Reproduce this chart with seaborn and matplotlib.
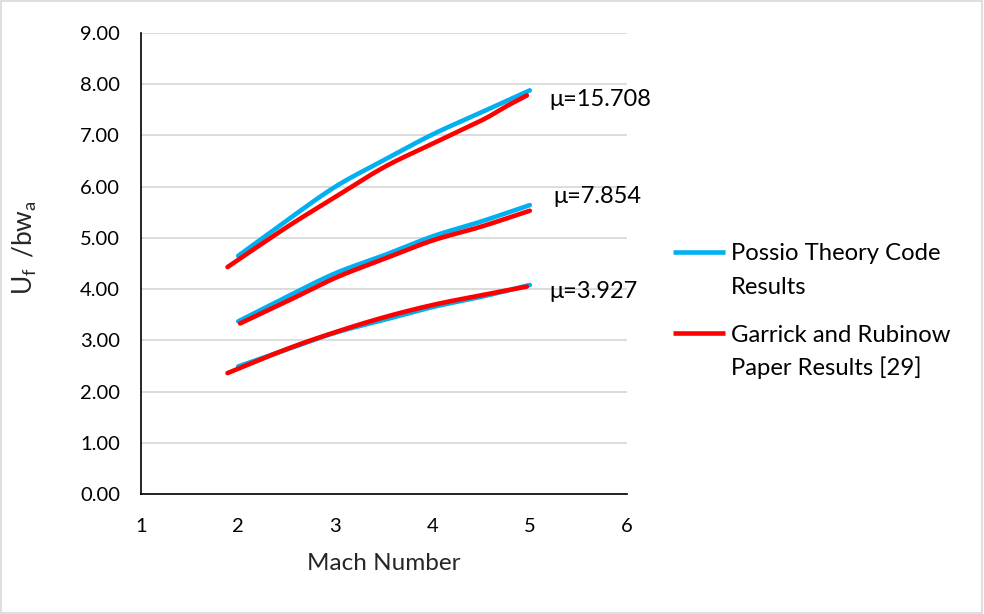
import numpy as np
import pandas as pd
import matplotlib
matplotlib.use("Agg")
import matplotlib.pyplot as plt
from matplotlib.patches import Rectangle
from matplotlib.lines import Line2D
import seaborn as sns

# Flutter speed ratio vs Mach number for three mass ratios
mu_labels = ["μ=15.708", "μ=7.854", "μ=3.927"]

# Possio theory code results
possio_mach = [2.0, 2.5, 3.0, 3.5, 4.0, 4.5, 5.0]
possio_mu_15708 = [4.65, 5.34, 6.00, 6.52, 7.02, 7.45, 7.88]
possio_mu_7854 = [3.37, 3.85, 4.31, 4.66, 5.03, 5.32, 5.64]
possio_mu_3927 = [2.49, 2.82, 3.15, 3.40, 3.65, 3.85, 4.08]

# Garrick and Rubinow paper results
garrick_mach_15708 = [1.89, 2.5, 3.0, 3.5, 4.0, 4.5, 4.75, 4.97]
garrick_mu_15708 = [4.43, 5.21, 5.80, 6.38, 6.84, 7.29, 7.56, 7.78]
garrick_mach_7854 = [2.02, 2.5, 3.0, 3.5, 4.0, 4.5, 5.0]
garrick_mu_7854 = [3.33, 3.76, 4.22, 4.59, 4.95, 5.22, 5.53]
garrick_mach_3927 = [1.89, 2.5, 3.0, 3.5, 4.0, 4.5, 4.97]
garrick_mu_3927 = [2.36, 2.83, 3.16, 3.45, 3.69, 3.88, 4.05]

series_names = ["Possio Theory Code\nResults", "Garrick and Rubinow\nPaper Results [29]"]
series_colors = ["#00B0F0", "#FF0000"]

x_ticks = [1, 2, 3, 4, 5, 6]
y_ticks = [0, 1, 2, 3, 4, 5, 6, 7, 8, 9]


def smooth(xs, ys, n=30):
    """Catmull-Rom smoothing of a polyline (like a spreadsheet 'smoothed line')."""
    x = np.asarray(xs, float)
    y = np.asarray(ys, float)
    px = np.concatenate([[2 * x[0] - x[1]], x, [2 * x[-1] - x[-2]]])
    py = np.concatenate([[2 * y[0] - y[1]], y, [2 * y[-1] - y[-2]]])
    ox, oy = [], []
    t = np.linspace(0, 1, n, endpoint=False)
    for i in range(1, len(px) - 2):
        for arr, out in ((px, ox), (py, oy)):
            p0, p1, p2, p3 = arr[i - 1], arr[i], arr[i + 1], arr[i + 2]
            out.extend(0.5 * ((2 * p1) + (-p0 + p2) * t
                              + (2 * p0 - 5 * p1 + 4 * p2 - p3) * t ** 2
                              + (-p0 + 3 * p1 - 3 * p2 + p3) * t ** 3))
    ox.append(x[-1])
    oy.append(y[-1])
    return ox, oy


curves = [
    (series_names[0], mu_labels[0], possio_mach, possio_mu_15708),
    (series_names[0], mu_labels[1], possio_mach, possio_mu_7854),
    (series_names[0], mu_labels[2], possio_mach, possio_mu_3927),
    (series_names[1], mu_labels[0], garrick_mach_15708, garrick_mu_15708),
    (series_names[1], mu_labels[1], garrick_mach_7854, garrick_mu_7854),
    (series_names[1], mu_labels[2], garrick_mach_3927, garrick_mu_3927),
]

frames = []
for src, mu, xs, ys in curves:
    sx, sy = smooth(xs, ys)
    frames.append(pd.DataFrame({"Mach": sx, "U": sy, "source": src, "mu": mu}))
df = pd.concat(frames, ignore_index=True)

sns.set_theme(style="white")
plt.rcParams["font.family"] = ["Lato", "DejaVu Sans"]
plt.rcParams["mathtext.fontset"] = "custom"
plt.rcParams["mathtext.rm"] = "Lato"
plt.rcParams["mathtext.it"] = "Lato:italic"

W, H = 984, 614
fig = plt.figure(figsize=(W / 100, H / 100), dpi=100)
ax = fig.add_axes([141 / W, 1 - 494 / H, (627 - 141) / W, (494 - 33) / H])

sns.lineplot(data=df, x="Mach", y="U", hue="source", units="mu", estimator=None,
             sort=False, palette=dict(zip(series_names, series_colors)),
             linewidth=3.3, ax=ax, legend=False)

ax.set_xlim(1, 6)
ax.set_ylim(0, 9)
ax.set_xticks(x_ticks)
ax.set_yticks(y_ticks)
ax.set_yticklabels([f"{v:.2f}" for v in y_ticks])
ax.grid(axis="y", color="#D9D9D9", linewidth=1.3)
ax.set_axisbelow(True)
for s in ["top", "right"]:
    ax.spines[s].set_visible(False)
for s in ["left", "bottom"]:
    ax.spines[s].set_color("#000000")
    ax.spines[s].set_linewidth(1.2)
ax.tick_params(axis="both", length=0, labelsize=14.5, colors="#000000")
ax.tick_params(axis="y", pad=15)
ax.tick_params(axis="x", pad=17)

ax.set_xlabel("Mach Number", fontsize=17.5, labelpad=13)
ax.set_ylabel(r"$\mathregular{U_f\ \,/bw_a}$", fontsize=19)
ax.yaxis.set_label_coords(-0.21, 0.535)

# curve labels for the mass ratios
label_pos = [(5.20, 7.70), (5.24, 5.80), (5.20, 3.96)]
for txt, (lx, ly) in zip(mu_labels, label_pos):
    ax.text(lx, ly, txt, fontsize=17, va="center", ha="left", color="#000000")

# legend: line sample aligned with the first text line of each entry
legend_rows = [252, 333]
line_gap = 33
for name, color, ry in zip(series_names, series_colors, legend_rows):
    fig.add_artist(Line2D([673 / W, 725 / W], [1 - ry / H, 1 - ry / H],
                          color=color, linewidth=3.3, solid_capstyle="butt"))
    for k, part in enumerate(name.split("\n")):
        fig.text(731 / W, 1 - (ry + k * line_gap) / H, part, fontsize=17.2,
                 ha="left", va="center_baseline", color="#000000")

fig.patches.append(Rectangle((0.001, 0.002), 0.997, 0.996, transform=fig.transFigure,
                             fill=False, edgecolor="#D9D9D9", linewidth=1.2))

fig.savefig("out.png", dpi=100)
